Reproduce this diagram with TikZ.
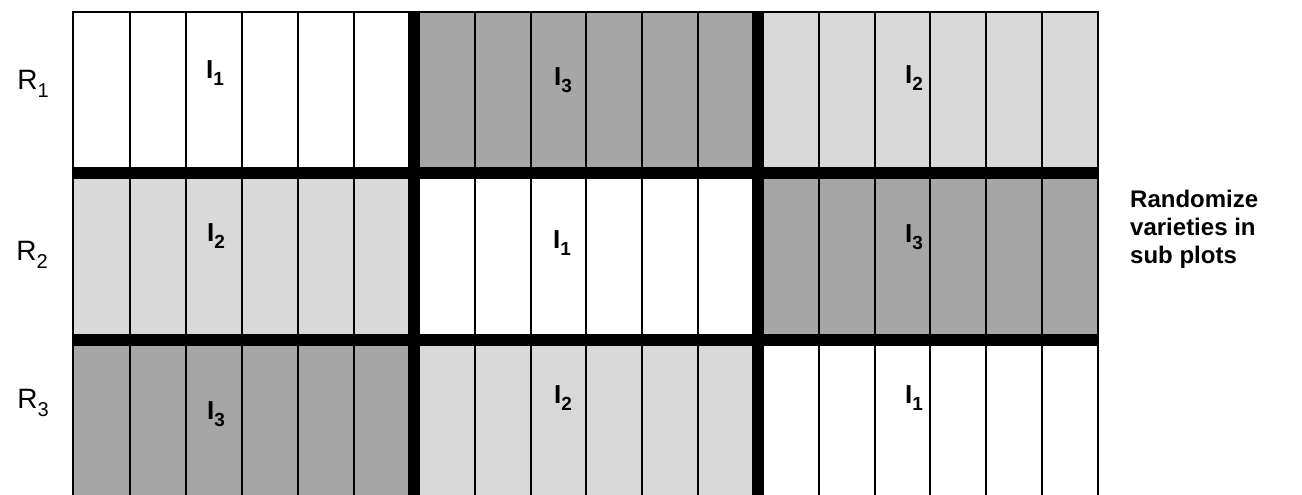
\documentclass[tikz,border=0pt]{standalone}
\usepackage{fontspec}
\setmainfont{Liberation Sans}
\definecolor{darkplot}{HTML}{A6A6A6}
\definecolor{lightplot}{HTML}{D9D9D9}
\newcommand{\subidx}[2]{\raisebox{-0.28em}{\fontsize{#1}{#1}\selectfont #2}}
\tikzset{
  thinline/.style={line width=2.6pt, black},
  thickline/.style={line width=12.5pt, black},
  ilabel/.style={font=\fontsize{26}{28}\selectfont\bfseries, inner sep=0pt, anchor=center},
  rlabel/.style={font=\fontsize{28}{30}\selectfont, inner sep=0pt, anchor=center},
  sidelabel/.style={font=\fontsize{24}{28}\selectfont\bfseries, align=left, inner sep=0pt, anchor=west}
}
\begin{document}
\begin{tikzpicture}[x=1pt,y=-1pt]
\useasboundingbox (0,0) rectangle (1302,495);
\fill[white] (0,0) rectangle (1302,495);
% fills: row 1
\fill[white]     (73,12) rectangle (414,173);
\fill[darkplot]  (414,12) rectangle (758,173);
\fill[lightplot] (758,12) rectangle (1098,173);
% row 2
\fill[lightplot] (73,173) rectangle (414,340);
\fill[white]     (414,173) rectangle (758,340);
\fill[darkplot]  (758,173) rectangle (1098,340);
% row 3
\fill[darkplot]  (73,340) rectangle (414,495);
\fill[lightplot] (414,340) rectangle (758,495);
\fill[white]     (758,340) rectangle (1098,495);
% thin column lines
\foreach \x in {73,130,186,242,298,354,475,531,586,642,698,819,875,930,986,1042,1098}
  \draw[thinline] (\x,12) -- (\x,495);
\draw[thinline] (71.7,12) -- (1099.3,12);
% thick dividers
\draw[thickline] (414,10.7) -- (414,495);
\draw[thickline] (758,10.7) -- (758,495);
\draw[thickline] (73,173) -- (1099.3,173);
\draw[thickline] (73,340) -- (1099.3,340);
% row labels
\node[rlabel] (r1) at (33,84) {R\subidx{20}{1}};
\node[rlabel] (r2) at (32,255) {R\subidx{20}{2}};
\node[rlabel] (r3) at (33,403) {R\subidx{20}{3}};
% plot labels
\node[ilabel] (a11) at (215,73) {I\subidx{19}{1}};
\node[ilabel] (a12) at (563,80) {I\subidx{19}{3}};
\node[ilabel] (a13) at (914,78) {I\subidx{19}{2}};
\node[ilabel] (a21) at (216,236) {I\subidx{19}{2}};
\node[ilabel] (a22) at (562,243) {I\subidx{19}{1}};
\node[ilabel] (a23) at (914,237) {I\subidx{19}{3}};
\node[ilabel] (a31) at (216,414) {I\subidx{19}{3}};
\node[ilabel] (a32) at (563,398) {I\subidx{19}{2}};
\node[ilabel] (a33) at (914,398) {I\subidx{19}{1}};
% side text
\node[sidelabel] (side) at (1130,229) {Randomize\\varieties in\\sub plots};
\end{tikzpicture}
\end{document}
